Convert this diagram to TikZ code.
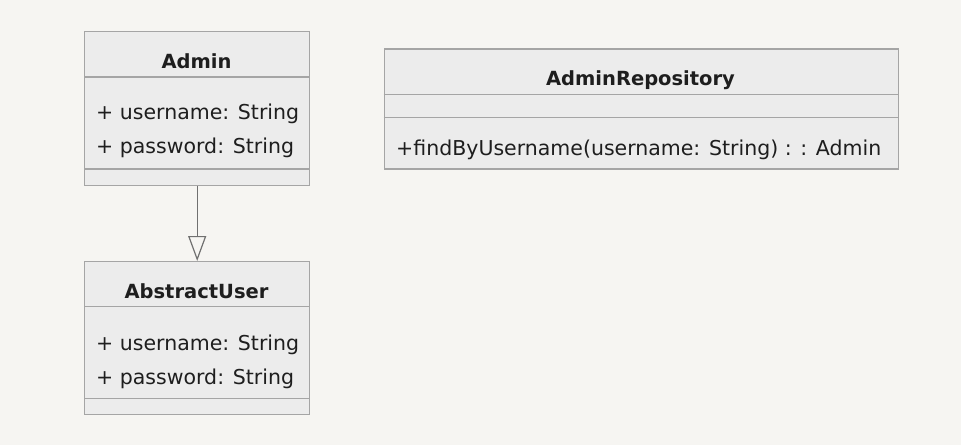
\documentclass[tikz,border=0pt]{standalone}
\usepackage{fontspec}
\setmainfont{DejaVu Sans}
\usetikzlibrary{arrows.meta}
\definecolor{bgc}{HTML}{F6F5F2}
\definecolor{boxfill}{HTML}{ECECEC}
\definecolor{boxline}{HTML}{A5A5A5}
\definecolor{txt}{HTML}{1E1E1E}
\definecolor{conn}{HTML}{707070}
\tikzset{
  classbox/.style={draw=boxline, fill=boxfill, line width=1.4pt, inner sep=0pt, anchor=north west},
  sep/.style={draw=boxline, line width=1.4pt},
  ttl/.style={font=\fontsize{19.5}{24}\selectfont\bfseries, text=txt, anchor=base, inner sep=0pt},
  mbr/.style={font=\fontsize{20.5}{24}\selectfont, text=txt, anchor=base west, inner sep=0pt},
  inh/.style={draw=conn, line width=1.2pt, -{Triangle[open, length=25pt, width=18pt, line width=1.2pt]}}
}
\begin{document}
\begin{tikzpicture}[x=1pt,y=1pt]
\fill[bgc] (0,0) rectangle (961,-445);
\useasboundingbox (0,0) rectangle (961,-445);
% Admin
\node[classbox, minimum width=225pt, minimum height=154pt] (admin) at (84,-31) {};
\draw[sep] (84,-77) -- (309,-77);
\draw[sep] (84,-169) -- (309,-169);
\node[ttl] (admint) at (196.5,-68.7) {Admin};
\node[mbr] (admina1) at (96,-119.5) {+ username: String};
\node[mbr] (admina2) at (96,-153) {+ password: String};
% AbstractUser
\node[classbox, minimum width=225pt, minimum height=153pt] (abs) at (84,-261) {};
\draw[sep] (84,-306.7) -- (309,-306.7);
\draw[sep] (84,-398.3) -- (309,-398.3);
\node[ttl] (abst) at (196.5,-298.3) {AbstractUser};
\node[mbr] (absa1) at (96,-350.7) {+ username: String};
\node[mbr] (absa2) at (96,-384) {+ password: String};
% AdminRepository
\node[classbox, minimum width=514pt, minimum height=120pt] (repo) at (383.5,-48.3) {};
\draw[sep] (383.5,-94.3) -- (897.5,-94.3);
\draw[sep] (383.5,-117.7) -- (897.5,-117.7);
\node[ttl] (repot) at (640.5,-85.7) {AdminRepository};
\node[mbr] (repom) at (396,-155) {+findByUsername(username: String) : : Admin};
% inheritance
\draw[inh] (admin.south) -- (abs.north);
\end{tikzpicture}
\end{document}
